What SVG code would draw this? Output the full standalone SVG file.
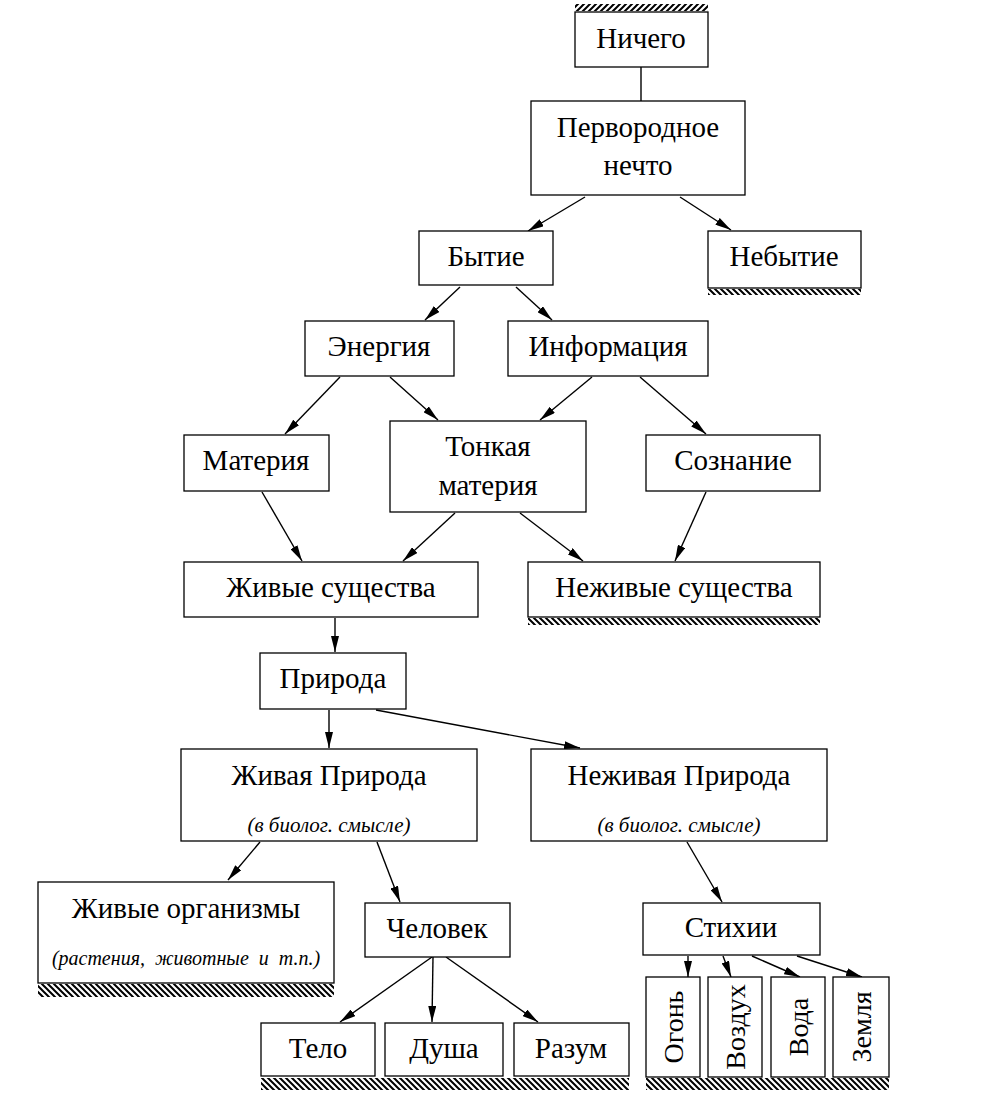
<svg xmlns="http://www.w3.org/2000/svg" width="992" height="1097" viewBox="0 0 992 1097">
<defs>
<pattern id="hb" patternUnits="userSpaceOnUse" width="6" height="6"><path d="M-1,-1 L7,7 M-7,-1 L1,7 M5,-1 L13,7" stroke="#000" stroke-width="2"/></pattern>
<pattern id="hf" patternUnits="userSpaceOnUse" width="6" height="6"><path d="M-1,7 L7,-1 M-7,7 L1,-1 M5,7 L13,-1" stroke="#000" stroke-width="2"/></pattern>
<marker id="ar" markerWidth="16" markerHeight="8" refX="16" refY="4" orient="auto" markerUnits="userSpaceOnUse"><path d="M0,0 L16,4 L0,8 Z" fill="#000"/></marker>
</defs>
<style>
rect.b{fill:#fff;stroke:#000;stroke-width:1.3}
text.n,text.s,text.t,text.v{font-family:'Liberation Serif','Times New Roman',serif;fill:#000;text-anchor:middle}
text.n{font-size:29px}
text.s{font-size:21px;font-style:italic}
text.t{font-size:20px;font-style:italic;word-spacing:5px}
text.v{font-size:28px}
#connectors line{stroke:#000;stroke-width:1.4}
#connectors line.a{marker-end:url(#ar)}
</style>
<g id="hatches">
<rect x="575" y="4" width="133" height="7" fill="url(#hf)"/>
<rect x="708" y="289" width="153" height="6" fill="url(#hb)"/>
<rect x="528" y="618" width="292" height="7" fill="url(#hb)"/>
<rect x="38" y="984" width="296" height="13" fill="url(#hb)"/>
<rect x="261" y="1078" width="368" height="12" fill="url(#hb)"/>
<rect x="646" y="1078" width="243" height="12" fill="url(#hb)"/>
</g>
<g id="connectors">
<line x1="641" y1="67" x2="641" y2="101"/>
<line class="a" x1="585" y1="197" x2="528" y2="231"/>
<line class="a" x1="680" y1="197" x2="731" y2="230"/>
<line class="a" x1="460" y1="287" x2="425" y2="320"/>
<line class="a" x1="516" y1="287" x2="552" y2="320"/>
<line class="a" x1="340" y1="377" x2="285" y2="434"/>
<line class="a" x1="390" y1="377" x2="438" y2="420"/>
<line class="a" x1="592" y1="377" x2="540" y2="420"/>
<line class="a" x1="640" y1="377" x2="706" y2="434"/>
<line class="a" x1="262" y1="492" x2="302" y2="561"/>
<line class="a" x1="455" y1="513" x2="403" y2="561"/>
<line class="a" x1="520" y1="513" x2="583" y2="561"/>
<line class="a" x1="706" y1="492" x2="675" y2="561"/>
<line class="a" x1="335" y1="618" x2="335" y2="652"/>
<line class="a" x1="329" y1="710" x2="329" y2="748"/>
<line class="a" x1="376" y1="710" x2="580" y2="748"/>
<line class="a" x1="260" y1="842" x2="228" y2="880"/>
<line class="a" x1="377" y1="842" x2="400" y2="902"/>
<line class="a" x1="687" y1="842" x2="722" y2="902"/>
<line class="a" x1="432" y1="957" x2="340" y2="1022"/>
<line class="a" x1="433" y1="957" x2="432" y2="1022"/>
<line class="a" x1="446" y1="957" x2="538" y2="1022"/>
<line class="a" x1="688" y1="956" x2="688" y2="977"/>
<line class="a" x1="723" y1="956" x2="731" y2="977"/>
<line class="a" x1="752" y1="956" x2="800" y2="977"/>
<line class="a" x1="797" y1="956" x2="862" y2="977"/>
</g>
<g id="nodes" font-family="Liberation Serif, Times New Roman, serif">
<g id="n-nichego"><rect class="b" x="575" y="12" width="133" height="55"/><text class="n" x="641" y="48">Ничего</text></g>
<g id="n-pervorodnoe"><rect class="b" x="531" y="101" width="214" height="94"/><text class="n" x="638" y="137">Первородное</text><text class="n" x="638" y="175">нечто</text></g>
<g id="n-bytie"><rect class="b" x="419" y="231" width="134" height="54"/><text class="n" x="486" y="266">Бытие</text></g>
<g id="n-nebytie"><rect class="b" x="708" y="231" width="153" height="57"/><text class="n" x="784" y="266">Небытие</text></g>
<g id="n-energiya"><rect class="b" x="305" y="321" width="149" height="55"/><text class="n" x="379" y="356">Энергия</text></g>
<g id="n-informaciya"><rect class="b" x="508" y="321" width="200" height="55"/><text class="n" x="608" y="356">Информация</text></g>
<g id="n-materiya"><rect class="b" x="184" y="435" width="145" height="56"/><text class="n" x="256" y="470">Материя</text></g>
<g id="n-tonkaya"><rect class="b" x="390" y="421" width="196" height="91"/><text class="n" x="488" y="456">Тонкая</text><text class="n" x="488" y="495">материя</text></g>
<g id="n-soznanie"><rect class="b" x="646" y="435" width="174" height="56"/><text class="n" x="733" y="470">Сознание</text></g>
<g id="n-zhivye-sushch"><rect class="b" x="184" y="562" width="294" height="55"/><text class="n" x="331" y="597">Живые существа</text></g>
<g id="n-nezhivye-sushch"><rect class="b" x="528" y="562" width="292" height="55"/><text class="n" x="674" y="597">Неживые существа</text></g>
<g id="n-priroda"><rect class="b" x="260" y="653" width="146" height="56"/><text class="n" x="333" y="688">Природа</text></g>
<g id="n-zhivaya"><rect class="b" x="181" y="749" width="296" height="92"/><text class="n" x="329" y="785">Живая Природа</text><text class="s" x="329" y="832">(в биолог. смысле)</text></g>
<g id="n-nezhivaya"><rect class="b" x="531" y="749" width="296" height="92"/><text class="n" x="679" y="785">Неживая Природа</text><text class="s" x="679" y="832">(в биолог. смысле)</text></g>
<g id="n-organizmy"><rect class="b" x="38" y="882" width="296" height="101"/><text class="n" x="186" y="918">Живые организмы</text><text class="t" x="186" y="965">(растения,  животные  и т.п.)</text></g>
<g id="n-chelovek"><rect class="b" x="365" y="903" width="145" height="54"/><text class="n" x="437" y="938">Человек</text></g>
<g id="n-stihii"><rect class="b" x="643" y="903" width="177" height="52"/><text class="n" x="731" y="937">Стихии</text></g>
<g id="n-ogon"><rect class="b" x="646" y="977" width="54" height="100"/><text class="v" transform="translate(683,1027) rotate(-90)">Огонь</text></g>
<g id="n-vozduh"><rect class="b" x="708" y="977" width="54" height="100"/><text class="v" transform="translate(745,1027) rotate(-90)">Воздух</text></g>
<g id="n-voda"><rect class="b" x="771" y="977" width="54" height="100"/><text class="v" transform="translate(808,1027) rotate(-90)">Вода</text></g>
<g id="n-zemlya"><rect class="b" x="833" y="977" width="56" height="100"/><text class="v" transform="translate(871,1027) rotate(-90)">Земля</text></g>
<g id="n-telo"><rect class="b" x="261" y="1023" width="114" height="53"/><text class="n" x="318" y="1058">Тело</text></g>
<g id="n-dusha"><rect class="b" x="385" y="1023" width="118" height="53"/><text class="n" x="444" y="1058">Душа</text></g>
<g id="n-razum"><rect class="b" x="514" y="1023" width="115" height="53"/><text class="n" x="571" y="1058">Разум</text></g>
</g>
</svg>
